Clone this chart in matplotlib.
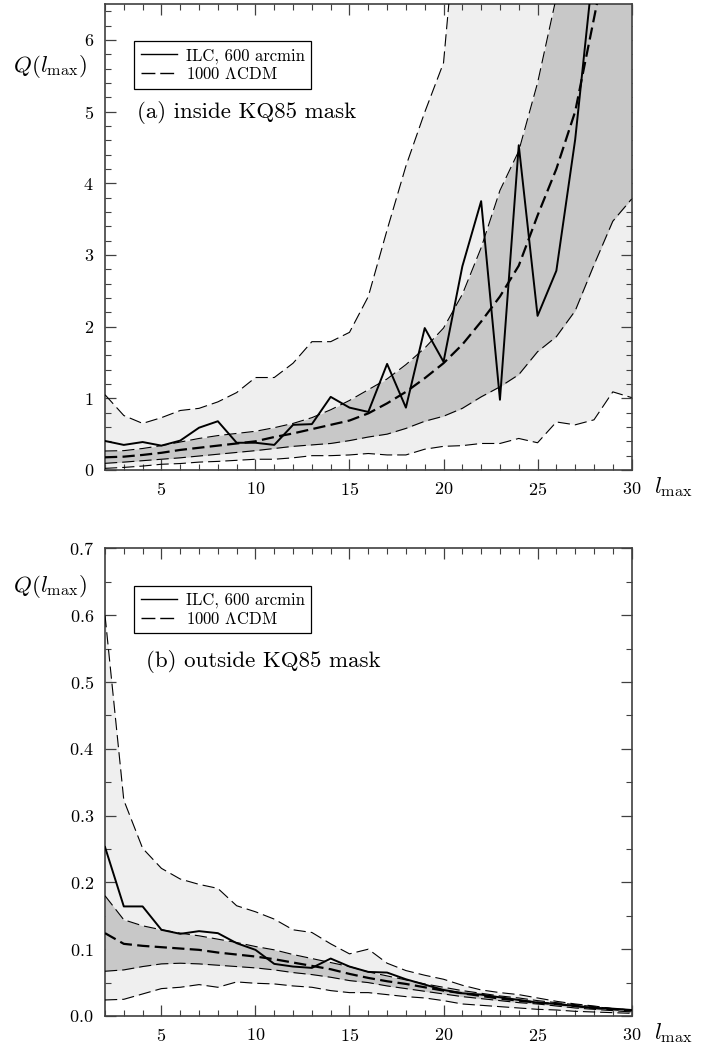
import numpy as np
import matplotlib
matplotlib.use("Agg")
import matplotlib.pyplot as plt
from matplotlib.ticker import MultipleLocator

plt.rcParams.update({
    "font.family": "serif",
    "font.serif": ["cmr10"],
    "mathtext.fontset": "cm",
    "axes.formatter.use_mathtext": True,
})

# multipole range
lmax = np.arange(2, 31)

# (a) inside KQ85 mask
a_outer_hi = [1.05, 0.76, 0.65, 0.73, 0.83, 0.86, 0.95, 1.08, 1.29, 1.29, 1.49, 1.79, 1.79, 1.92,
              2.42, 3.35, 4.24, 4.99, 5.68, 8.6, 9.8, 11.0, 12.3, 13.6, 15.0, 16.4, 17.8, 19.2, 20.6]
a_inner_hi = [0.265, 0.27, 0.30, 0.34, 0.39, 0.44, 0.48, 0.51, 0.54, 0.59, 0.65, 0.73, 0.84, 0.97,
              1.12, 1.27, 1.47, 1.70, 1.98, 2.45, 3.1, 3.9, 4.45, 5.4, 6.6, 8.0, 9.4, 10.8, 12.2]
a_mean = [0.177, 0.186, 0.21, 0.24, 0.28, 0.31, 0.34, 0.37, 0.40, 0.46, 0.51, 0.57, 0.63, 0.69,
          0.79, 0.93, 1.09, 1.28, 1.49, 1.75, 2.07, 2.42, 2.85, 3.55, 4.2, 5.0, 6.3, 7.6, 9.0]
a_inner_lo = [0.093, 0.11, 0.13, 0.15, 0.17, 0.195, 0.22, 0.245, 0.27, 0.30, 0.33, 0.35, 0.37, 0.41,
              0.46, 0.50, 0.58, 0.68, 0.75, 0.86, 1.02, 1.16, 1.33, 1.65, 1.86, 2.22, 2.86, 3.47, 3.78]
a_outer_lo = [0.023, 0.036, 0.055, 0.08, 0.09, 0.11, 0.12, 0.135, 0.15, 0.15, 0.17, 0.20, 0.20, 0.21,
              0.23, 0.21, 0.21, 0.29, 0.33, 0.34, 0.37, 0.37, 0.44, 0.38, 0.67, 0.63, 0.70, 1.09, 1.01]
a_ilc = [0.405, 0.35, 0.39, 0.34, 0.41, 0.59, 0.68, 0.38, 0.38, 0.35, 0.63, 0.64, 1.02, 0.87,
         0.81, 1.48, 0.87, 1.98, 1.51, 2.84, 3.75, 0.98, 4.53, 2.15, 2.78, 4.61, 7.1, 9.0, 10.5]

# (b) outside KQ85 mask
b_outer_hi = [0.60, 0.323, 0.251, 0.221, 0.205, 0.197, 0.191, 0.165, 0.156, 0.145, 0.129, 0.125, 0.108, 0.093,
              0.100, 0.079, 0.068, 0.061, 0.055, 0.046, 0.039, 0.035, 0.032, 0.027, 0.022, 0.018, 0.015, 0.011, 0.009]
b_inner_hi = [0.18, 0.144, 0.135, 0.129, 0.124, 0.120, 0.115, 0.110, 0.104, 0.099, 0.092, 0.086, 0.080, 0.074,
              0.066, 0.060, 0.054, 0.048, 0.043, 0.038, 0.034, 0.030, 0.027, 0.023, 0.020, 0.017, 0.014, 0.011, 0.009]
b_mean = [0.124, 0.108, 0.105, 0.103, 0.101, 0.099, 0.095, 0.092, 0.089, 0.085, 0.080, 0.075, 0.070, 0.063,
          0.057, 0.052, 0.048, 0.043, 0.038, 0.034, 0.030, 0.026, 0.023, 0.020, 0.018, 0.015, 0.012, 0.010, 0.008]
b_inner_lo = [0.067, 0.069, 0.074, 0.078, 0.079, 0.078, 0.076, 0.074, 0.072, 0.069, 0.065, 0.062, 0.058, 0.053,
              0.050, 0.045, 0.041, 0.037, 0.033, 0.029, 0.026, 0.023, 0.020, 0.018, 0.015, 0.012, 0.010, 0.008, 0.006]
b_outer_lo = [0.024, 0.025, 0.033, 0.041, 0.043, 0.047, 0.043, 0.051, 0.049, 0.048, 0.045, 0.043, 0.038, 0.035,
              0.035, 0.032, 0.029, 0.027, 0.023, 0.018, 0.016, 0.014, 0.012, 0.010, 0.009, 0.007, 0.006, 0.005, 0.004]
b_ilc = [0.253, 0.164, 0.164, 0.129, 0.123, 0.127, 0.124, 0.109, 0.099, 0.078, 0.074, 0.072, 0.086, 0.074,
         0.066, 0.065, 0.055, 0.047, 0.039, 0.034, 0.032, 0.028, 0.024, 0.020, 0.018, 0.015, 0.012, 0.011, 0.009]

LIGHT = "#efefef"
DARK = "#c8c8c8"
SPINE = "#404040"

fig = plt.figure(figsize=(7.15, 10.45), dpi=100)
W, H = 715.0, 1045.0
ax_a = fig.add_axes([105 / W, 1 - 470 / H, 526.6 / W, 466 / H])
ax_b = fig.add_axes([105 / W, 1 - 1016 / H, 526.6 / W, 467.7 / H])


def draw_panel(ax, outer_lo, inner_lo, mean, inner_hi, outer_hi, ilc, qy):
    ax.fill_between(lmax, outer_lo, outer_hi, color=LIGHT, lw=0, zorder=1)
    ax.fill_between(lmax, inner_lo, inner_hi, color=DARK, lw=0, zorder=2)
    for band in (outer_lo, inner_lo, inner_hi, outer_hi):
        ax.plot(lmax, band, color="black", lw=0.8, dashes=(11, 4.5), zorder=3)
    ax.plot(lmax, mean, color="black", lw=1.6, dashes=(5.5, 2.4), zorder=4)
    ax.plot(lmax, ilc, color="black", lw=1.4, zorder=5)
    # legend handles
    h1, = ax.plot([], [], color="black", lw=1.0, label="ILC, 600 arcmin")
    h2, = ax.plot([], [], color="black", lw=1.0, dashes=(10, 3.5), label=r"1000 $\Lambda$CDM")
    leg = ax.legend(handles=[h1, h2], loc="upper left", bbox_to_anchor=(0.055, 0.92),
                    borderaxespad=0, fancybox=False, framealpha=1, edgecolor="black",
                    fontsize=12, handlelength=2.2, handletextpad=0.5, borderpad=0.4,
                    labelspacing=0.15)
    leg.get_frame().set_linewidth(0.9)
    ax.set_xlim(2, 30)
    ax.xaxis.set_major_locator(MultipleLocator(5))
    ax.xaxis.set_minor_locator(MultipleLocator(1))
    ax.tick_params(which="both", direction="in", top=True, right=True,
                   labelsize=13, color=SPINE)
    ax.tick_params(which="major", length=8, width=0.9, pad=8)
    ax.tick_params(which="minor", length=4, width=0.8)
    for s in ax.spines.values():
        s.set_color(SPINE)
        s.set_linewidth(1.2)
    ax.text(-0.104, qy, r"$Q(l_{\rm max})$", transform=ax.transAxes,
            ha="center", va="center", fontsize=16.5)
    ax.text(1.08, -0.037, r"$l_{\rm max}$", transform=ax.transAxes,
            ha="center", va="center", fontsize=16.5)


draw_panel(ax_a, a_outer_lo, a_inner_lo, a_mean, a_inner_hi, a_outer_hi, a_ilc, 0.865)
ax_a.set_ylim(0, 6.5)
ax_a.yaxis.set_major_locator(MultipleLocator(1))
ax_a.yaxis.set_minor_locator(MultipleLocator(0.2))
ax_a.text(0.060, 0.768, "(a) inside KQ85 mask", transform=ax_a.transAxes,
          ha="left", va="center", fontsize=16.5)

draw_panel(ax_b, b_outer_lo, b_inner_lo, b_mean, b_inner_hi, b_outer_hi, b_ilc, 0.918)
ax_b.set_ylim(0, 0.7)
ax_b.yaxis.set_major_locator(MultipleLocator(0.1))
ax_b.yaxis.set_minor_locator(MultipleLocator(0.05))
ax_b.text(0.077, 0.757, "(b) outside KQ85 mask", transform=ax_b.transAxes,
          ha="left", va="center", fontsize=16.5)

fig.savefig("out.png", dpi=100)
